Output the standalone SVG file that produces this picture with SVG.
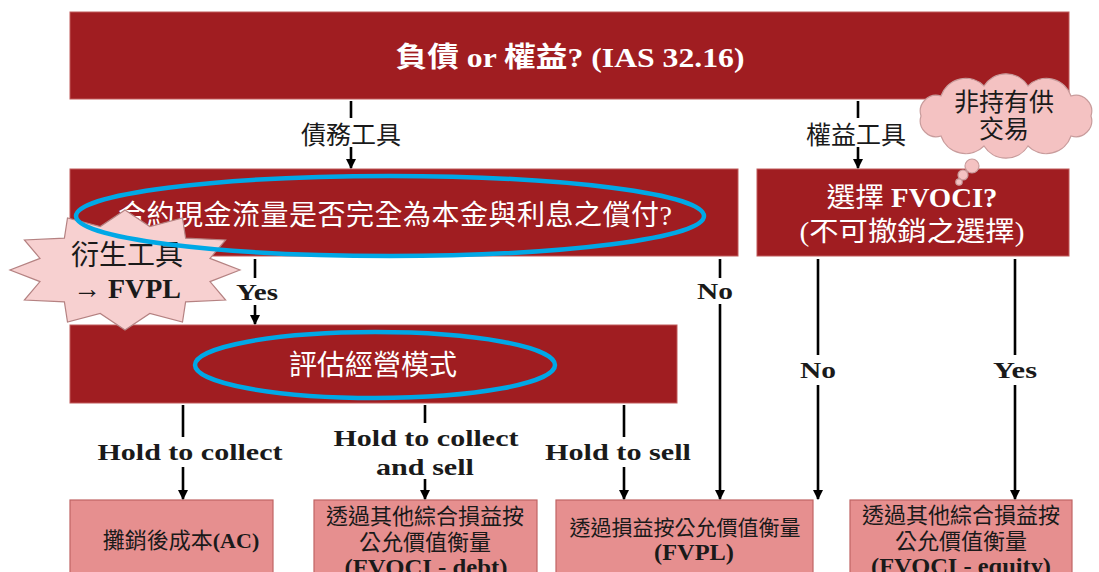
<svg xmlns="http://www.w3.org/2000/svg" width="1099" height="572" viewBox="0 0 1099 572">
<defs>
<style>
.dark{fill:#a01d21;stroke:#c05a5a;stroke-width:1}
.light{fill:#e68f8f;stroke:#c06464;stroke-width:1.2}
.t{font-family:"Liberation Serif","Noto Sans CJK TC",serif;text-anchor:middle}
.w{fill:#ffffff}
.k{fill:#1a1a1a}
.b{font-weight:bold}
.ln{stroke:#000;stroke-width:2.6;fill:none}
.ar{stroke:#000;stroke-width:2.6;fill:none;marker-end:url(#ah)}
.ell{fill:none;stroke:#00a8e6;stroke-width:4.5}
.pk{fill:#f4c2c2;stroke:#c89c9c;stroke-width:1.2}
</style>
<marker id="ah" viewBox="0 0 10 10" refX="9" refY="5" markerWidth="4" markerHeight="4" orient="auto" markerUnits="strokeWidth">
<path d="M0,0 L10,5 L0,10 Z" fill="#000"/>
</marker>
</defs>
<rect width="1099" height="572" fill="#ffffff"/>

<g id="n-top">
<rect class="dark" x="70" y="12" width="999" height="87"/>
<text class="t w b" x="570" y="67" font-size="28" textLength="349" lengthAdjust="spacingAndGlyphs">負債 or 權益? (IAS 32.16)</text>
</g>

<g id="n-sppi">
<rect class="dark" x="70" y="169" width="668" height="87"/>
<text class="t w" x="395" y="225" font-size="28" textLength="554" lengthAdjust="spacing">合約現金流量是否完全為本金與利息之償付?</text>
</g>

<g id="n-fvoci">
<rect class="dark" x="757" y="169" width="312" height="87"/>
<text class="t w" x="912" y="207" font-size="27" textLength="171" lengthAdjust="spacingAndGlyphs">選擇 <tspan class="b">FVOCI?</tspan></text>
<text class="t w" x="912" y="241" font-size="27" textLength="225" lengthAdjust="spacingAndGlyphs">(不可撤銷之選擇)</text>
</g>

<g id="n-bm">
<rect class="dark" x="70" y="325" width="607" height="78"/>
<text class="t w" x="373" y="375" font-size="28">評估經營模式</text>
</g>

<g id="n-ac">
<rect class="light" x="70" y="500" width="203" height="85"/>
<text class="t k" x="181" y="548" font-size="22">攤銷後成本<tspan class="b">(AC)</tspan></text>
</g>

<g id="n-fvoci-debt">
<rect class="light" x="314" y="500" width="223" height="85"/>
<text class="t k" x="425" y="524" font-size="22">透過其他綜合損益按</text>
<text class="t k" x="425" y="550" font-size="22">公允價值衡量</text>
<text class="t k b" x="426" y="575" font-size="23" textLength="163" lengthAdjust="spacingAndGlyphs">(FVOCI - debt)</text>
</g>

<g id="n-fvpl">
<rect class="light" x="556" y="500" width="257" height="85"/>
<text class="t k" x="685" y="535" font-size="21">透過損益按公允價值衡量</text>
<text class="t k b" x="694" y="560" font-size="23" textLength="80" lengthAdjust="spacingAndGlyphs">(FVPL)</text>
</g>

<g id="n-fvoci-eq">
<rect class="light" x="850" y="500" width="222" height="85"/>
<text class="t k" x="961" y="523" font-size="22">透過其他綜合損益按</text>
<text class="t k" x="961" y="549" font-size="22">公允價值衡量</text>
<text class="t k b" x="961" y="574" font-size="23" textLength="180" lengthAdjust="spacingAndGlyphs">(FVOCI - equity)</text>
</g>

<g id="connectors">
<line class="ln" x1="351" y1="101" x2="351" y2="118"/>
<text class="t k" x="351" y="144" font-size="25">債務工具</text>
<line class="ar" x1="351" y1="147" x2="351" y2="168"/>

<line class="ln" x1="858" y1="101" x2="858" y2="118"/>
<text class="t k" x="856" y="144" font-size="25">權益工具</text>
<line class="ar" x1="858" y1="147" x2="858" y2="168"/>

<line class="ln" x1="255" y1="259" x2="255" y2="278"/>
<text class="t k b" x="257" y="300" font-size="24" textLength="42" lengthAdjust="spacingAndGlyphs">Yes</text>
<line class="ar" x1="255" y1="305" x2="255" y2="324"/>

<line class="ln" x1="720" y1="259" x2="720" y2="278"/>
<text class="t k b" x="715" y="299" font-size="24" textLength="36" lengthAdjust="spacingAndGlyphs">No</text>
<line class="ar" x1="720" y1="304" x2="720" y2="499"/>

<line class="ln" x1="818" y1="259" x2="818" y2="355"/>
<text class="t k b" x="818" y="378" font-size="24" textLength="36" lengthAdjust="spacingAndGlyphs">No</text>
<line class="ar" x1="818" y1="385" x2="818" y2="499"/>

<line class="ln" x1="1015" y1="259" x2="1015" y2="355"/>
<text class="t k b" x="1015" y="378" font-size="24" textLength="44" lengthAdjust="spacingAndGlyphs">Yes</text>
<line class="ar" x1="1015" y1="385" x2="1015" y2="499"/>

<line class="ln" x1="183" y1="405" x2="183" y2="437"/>
<text class="t k b" x="190" y="460" font-size="24" textLength="185" lengthAdjust="spacingAndGlyphs">Hold to collect</text>
<line class="ar" x1="183" y1="467" x2="183" y2="499"/>

<line class="ln" x1="425" y1="405" x2="425" y2="423"/>
<text class="t k b" x="426" y="446" font-size="24" textLength="185" lengthAdjust="spacingAndGlyphs">Hold to collect</text>
<text class="t k b" x="425" y="475" font-size="24" textLength="98" lengthAdjust="spacingAndGlyphs">and sell</text>
<line class="ar" x1="425" y1="479" x2="425" y2="499"/>

<line class="ln" x1="624" y1="405" x2="624" y2="437"/>
<text class="t k b" x="618" y="460" font-size="24" textLength="146" lengthAdjust="spacingAndGlyphs">Hold to sell</text>
<line class="ar" x1="624" y1="467" x2="624" y2="499"/>
</g>

<g id="n-derivative">
<polygon points="240,270 210,281.6 225.6,300 185.6,301.8 182.5,322 149.8,313.5 125,330 100.2,313.5 67.5,322 64.4,301.8 24.4,300 40,281.6 10,270 40,258.4 24.4,240 64.4,238.2 67.5,218 100.2,226.5 125,210 149.8,226.5 182.5,218 185.6,238.2 225.6,240 210,258.4" fill="#f7d0d0" stroke="#b58282" stroke-width="1.2"/>
<text class="t k" x="127" y="265" font-size="28">衍生工具</text>
<text class="t k" x="127" y="298" font-size="28">→ <tspan class="b">FVPL</tspan></text>
</g>

<g id="highlights">
<ellipse class="ell" cx="390" cy="216" rx="314" ry="40"/>
<ellipse class="ell" cx="375" cy="365" rx="180" ry="33"/>
</g>

<g id="n-cloud">
<path class="pk" d="M1091,116 A16,16 0 0 1 1071,136 A26,26 0 0 1 1028,146 A26,26 0 0 1 984,146 A26,26 0 0 1 941,136 A16,16 0 0 1 921,116 A16,16 0 0 1 941,96 A26,26 0 0 1 984,86 A26,26 0 0 1 1028,86 A26,26 0 0 1 1071,96 A16,16 0 0 1 1091,116 Z"/>
<circle class="pk" cx="972" cy="166" r="7"/>
<circle class="pk" cx="963" cy="175" r="5"/>
<circle class="pk" cx="959" cy="182" r="3.2"/>
<text class="t k" x="1004" y="111" font-size="25">非持有供</text>
<text class="t k" x="1004" y="138" font-size="25">交易</text>
</g>
</svg>
